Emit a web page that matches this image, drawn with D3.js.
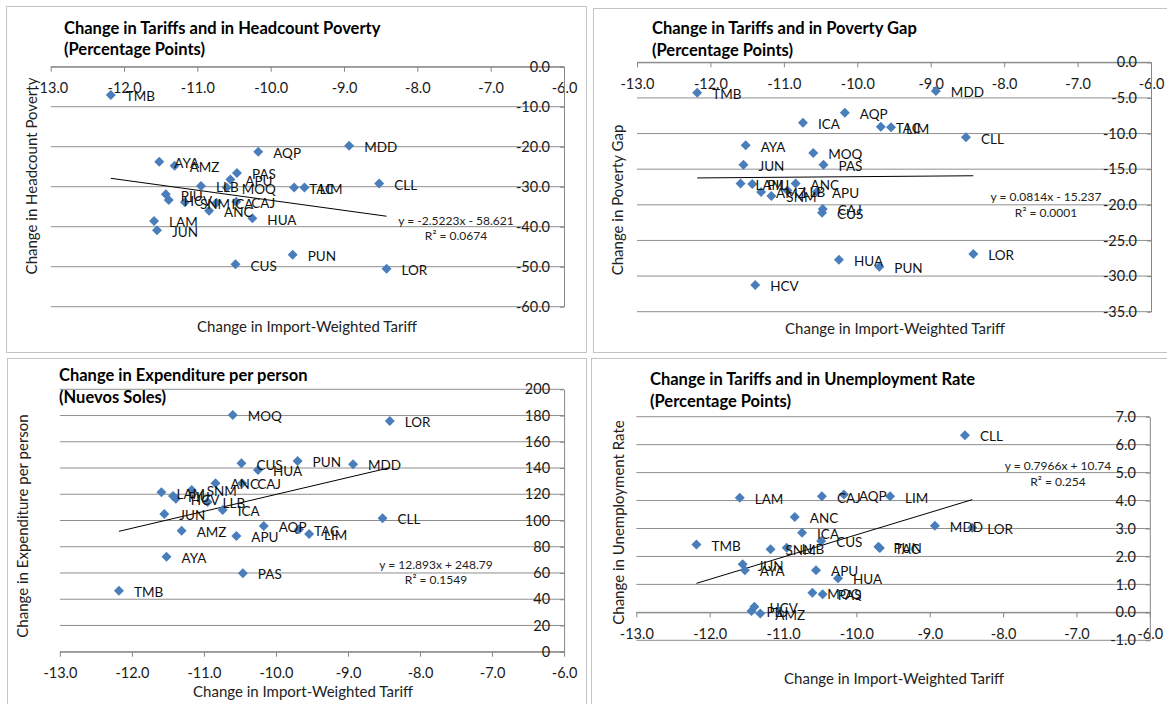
<!DOCTYPE html>
<meta charset="utf-8">
<head>
<style>
  body { margin:0; background:#fff; }
  svg text { font-family: Lato, "Liberation Sans", sans-serif; }
</style>
<script src="https://d3js.org/d3.v7.min.js"></script>
</head>
<body>
<svg width="1167" height="704"></svg>
<script>
// departments and their change in import-weighted tariff (x, shared by all panels)
var regions = ["TMB","AYA","AMZ","PAS","APU","AQP","MDD","LLB","MOQ","TAC","LIM","CLL",
               "PIU","HCV","SNM","ICA","CAJ","ANC","HUA","LAM","JUN","CUS","PUN","LOR"];
var tariffChange = [-12.18,-11.52,-11.31,-10.46,-10.55,-10.17,-8.93,-10.95,-10.60,-9.68,-9.54,-8.52,
                    -11.43,-11.39,-11.17,-10.74,-10.47,-10.84,-10.25,-11.59,-11.55,-10.48,-9.70,-8.42];

// y series, same order as regions
var headcountPoverty = [-7.1,-23.75,-24.75,-26.6,-28.2,-21.25,-19.75,-29.8,-30.2,-30.2,-30.2,-29.2,
                        -31.9,-33.3,-33.9,-34.0,-33.75,-36.0,-37.9,-38.6,-40.9,-49.4,-47.0,-50.5];
var povertyGap = [-4.26,-11.65,-18.2,-14.37,-18.16,-7.07,-4.03,-18.0,-12.73,-9.03,-9.12,-10.53,
                  -17.08,-31.25,-18.75,-8.48,-20.6,-17.0,-27.7,-17.0,-14.37,-21.1,-28.7,-26.9];
var expenditure = [46.5,72.4,92.2,59.8,88.2,95.8,142.9,114.1,180.5,93.3,89.7,101.7,
                   118.7,116.6,123.3,108.0,128.4,128.4,138.5,121.5,105.0,143.6,145.4,175.9];
var unemployment = [2.43,1.51,-0.04,0.65,1.51,4.22,3.10,2.31,0.70,2.30,4.15,6.34,
                    0.05,0.20,2.26,2.85,4.15,3.41,1.22,4.10,1.72,2.55,2.35,3.03];

// linear trend lines as printed on the chart
var trendSlope = [-2.5223, 0.0814, 12.893, 0.7966];
var trendIntercept = [-58.621, -15.237, 248.79, 10.74];
var trendLabel = ["y = -2.5223x - 58.621", "y = 0.0814x - 15.237", "y = 12.893x + 248.79", "y = 0.7966x + 10.74"];
var r2Label = ["R\u00b2 = 0.0674", "R\u00b2 = 0.0001", "R\u00b2 = 0.1549", "R\u00b2 = 0.254"];

// ticks
var xTicks = [-13,-12,-11,-10,-9,-8,-7,-6];
var yTicksHeadcount = [0,-10,-20,-30,-40,-50,-60];
var yTicksGap = [0,-5,-10,-15,-20,-25,-30,-35];
var yTicksExpenditure = [0,20,40,60,80,100,120,140,160,180,200];
var yTicksUnemployment = [-1,0,1,2,3,4,5,6,7];

var titles = [
  ["Change in Tariffs and in Headcount Poverty", "(Percentage Points)"],
  ["Change in Tariffs and in Poverty Gap", "(Percentage Points)"],
  ["Change in Expenditure per person", "(Nuevos Soles)"],
  ["Change in Tariffs and in Unemployment Rate", "(Percentage Points)"]
];
var yTitles = ["Change in Headcount Poverty", "Change in Poverty Gap",
               "Change in Expenditure per  person", "Change in Unemployment Rate"];
var xTitle = "Change in Import-Weighted Tariff";

// layout of the four panels
var panels = [
  { box:[6,6,580,346],   left:50.7,  right:564,    top:66.7,  bottom:306.7, titleX:64,  titleY:[28,49.5],
    xt:[307,326.7], yt:[32,176],    eq:[456,220.7,236] },
  { box:[593,8,580,344], left:637,   right:1151,   top:62.3,  bottom:311.7, titleX:652, titleY:[28.3,50.7],
    xt:[895,328.3], yt:[618,200],   eq:[1046,196.7,212.7] },
  { box:[7,358,579,350], left:59.9,  right:564.1,  top:389.3, bottom:651.7, titleX:59,  titleY:[375.7,397.7],
    xt:[303,691.7], yt:[23,526],    eq:[436,565,580] },
  { box:[591,358,580,350], left:636.3, right:1149.8, top:416.7, bottom:640.3, titleX:650, titleY:[379,401],
    xt:[894,679],   yt:[618.4,522.5], eq:[1058,466,481.7] }
];

var svg = d3.select("svg");

var diamond = {
  draw: function (ctx, size) {
    var r = Math.sqrt(size / 2);
    ctx.moveTo(0, -r); ctx.lineTo(r, 0); ctx.lineTo(0, r); ctx.lineTo(-r, 0); ctx.closePath();
  }
};

function drawPanel(k, yValues, yTicks, fmt) {
  var p = panels[k];
  var g = svg.append("g");

  g.append("rect")
    .attr("x", p.box[0] + 0.5).attr("y", p.box[1] + 0.5)
    .attr("width", p.box[2]).attr("height", p.box[3])
    .attr("fill", "none").attr("stroke", "#c4c4c4");

  var x = d3.scaleLinear().domain([-13, -6]).range([p.left, p.right]);
  var y = d3.scaleLinear().domain(d3.extent(yTicks)).range([p.bottom, p.top]);

  // gridlines
  g.append("g").selectAll("line").data(yTicks).enter().append("line")
    .attr("x1", p.left).attr("x2", p.right)
    .attr("y1", function (d) { return y(d) }).attr("y2", function (d) { return y(d) })
    .attr("stroke", "#8f8f8f");

  // x axis crosses at y = 0
  var xAxis = d3.axisBottom(x).tickValues(xTicks)
    .tickFormat(function (d) { return d.toFixed(1) })
    .tickSizeInner(5).tickSizeOuter(0).tickPadding(11);
  var ax = g.append("g").attr("transform", "translate(0," + y(0) + ")").call(xAxis);

  // y axis on the right (x = -6), labels inside
  var yAxis = d3.axisLeft(y).tickValues(yTicks).tickFormat(fmt)
    .tickSizeInner(4).tickSizeOuter(0).tickPadding(10);
  var ay = g.append("g").attr("transform", "translate(" + p.right + ",0)").call(yAxis);

  [ax, ay].forEach(function (a) {
    a.select(".domain").attr("stroke", "#868686");
    a.selectAll(".tick line").attr("stroke", "#868686");
    a.selectAll("text").style("font-size", "14.5px").style("font-family", "Lato").attr("fill", "#1a1a1a");
  });

  // trend line
  var x0 = d3.min(tariffChange), x1 = d3.max(tariffChange);
  g.append("line")
    .attr("x1", x(x0)).attr("y1", y(trendSlope[k] * x0 + trendIntercept[k]))
    .attr("x2", x(x1)).attr("y2", y(trendSlope[k] * x1 + trendIntercept[k]))
    .attr("stroke", "#000").attr("stroke-width", 1);

  // points
  var pts = regions.map(function (r, i) { return { name: r, x: tariffChange[i], y: yValues[i] } });
  g.append("g").selectAll("path").data(pts).enter().append("path")
    .attr("d", d3.symbol(diamond, 50))
    .attr("transform", function (d) { return "translate(" + x(d.x) + "," + y(d.y) + ")" })
    .attr("fill", "#4a7ebb");

  // data labels
  g.append("g").selectAll("text").data(pts).enter().append("text")
    .attr("x", function (d) { return x(d.x) + 15 })
    .attr("y", function (d) { return y(d.y) + 1.5 })
    .attr("dy", "0.35em")
    .style("font-size", "13.5px")
    .attr("fill", "#111")
    .text(function (d) { return d.name });

  // equation
  g.append("text").attr("x", p.eq[0]).attr("y", p.eq[1]).attr("dy", "0.35em")
    .attr("text-anchor", "middle").style("font-size", "12px").attr("fill", "#222")
    .text(trendLabel[k]);
  g.append("text").attr("x", p.eq[0]).attr("y", p.eq[2]).attr("dy", "0.35em")
    .attr("text-anchor", "middle").style("font-size", "12px").attr("fill", "#222")
    .text(r2Label[k]);

  // titles
  titles[k].forEach(function (t, j) {
    g.append("text").attr("x", p.titleX).attr("y", p.titleY[j]).attr("dy", "0.35em")
      .style("font-size", "16.5px").style("font-weight", "bold").attr("fill", "#000")
      .text(t);
  });

  g.append("text").attr("x", p.xt[0]).attr("y", p.xt[1]).attr("dy", "0.35em")
    .attr("text-anchor", "middle").style("font-size", "15px").attr("fill", "#222")
    .text(xTitle);
  g.append("text")
    .attr("transform", "translate(" + p.yt[0] + "," + p.yt[1] + ") rotate(-90)")
    .attr("dy", "0.35em").attr("text-anchor", "middle")
    .style("font-size", "15px").attr("fill", "#222")
    .text(yTitles[k]);
}

drawPanel(0, headcountPoverty, yTicksHeadcount, function (d) { return d.toFixed(1) });
drawPanel(1, povertyGap, yTicksGap, function (d) { return d.toFixed(1) });
drawPanel(2, expenditure, yTicksExpenditure, function (d) { return d.toFixed(0) });
drawPanel(3, unemployment, yTicksUnemployment, function (d) { return d.toFixed(1) });
</script>
</body>
